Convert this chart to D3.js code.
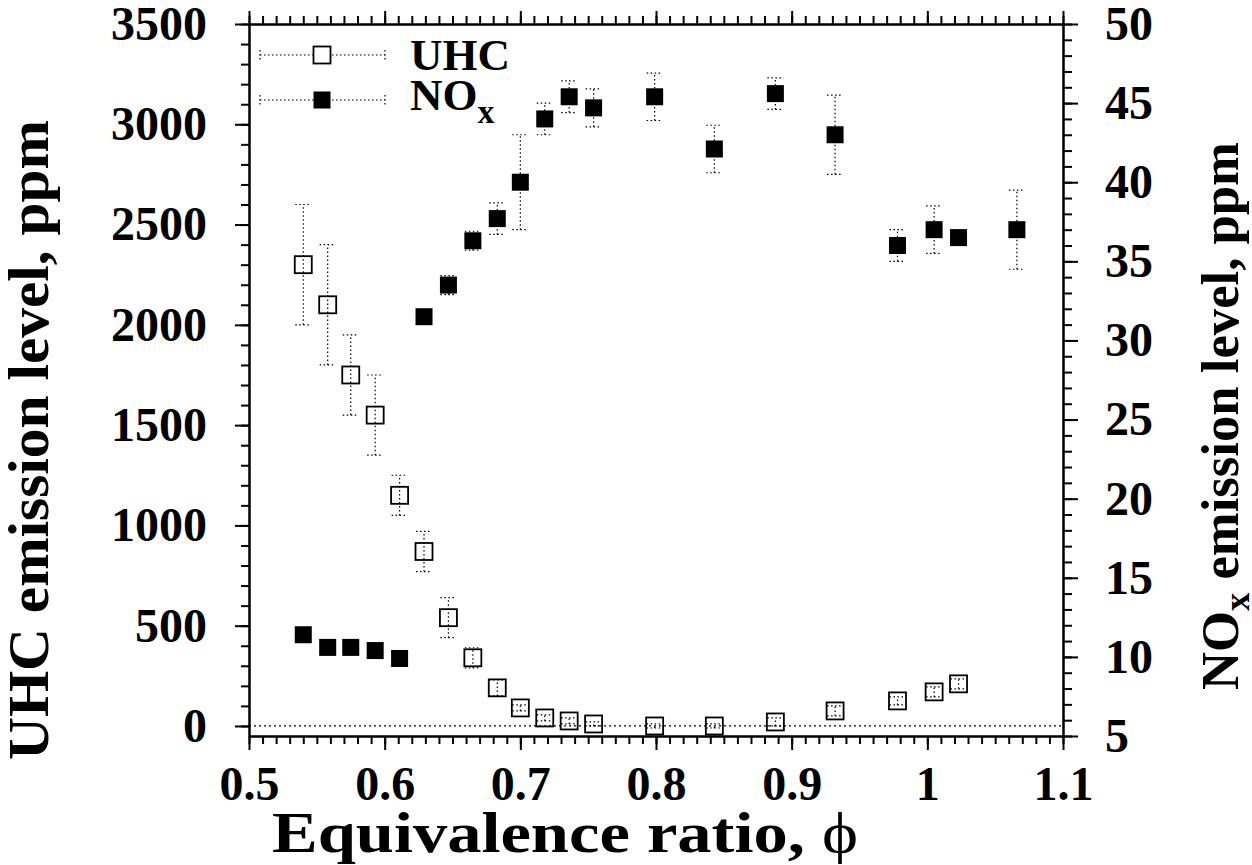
<!DOCTYPE html>
<html>
<head>
<meta charset="utf-8">
<script src="https://cdn.jsdelivr.net/npm/d3@7"></script>
<style>
  body { margin: 0; background: #fff; }
  svg text { font-family: "Liberation Serif", "Times New Roman", serif; font-weight: bold; fill: #000; }
</style>
</head>
<body>
<div id="chart"></div>
<script>
// equivalence ratio of each measurement
const phi = [0.540, 0.558, 0.575, 0.593, 0.611, 0.629, 0.647, 0.665, 0.683, 0.700,
             0.718, 0.736, 0.754, 0.799, 0.843, 0.888, 0.932, 0.978, 1.005, 1.023, 1.066];
// UHC, ppm (no reading at the last point)
const uhc = [2300, 2100, 1750, 1550, 1150, 870, 540, 340, 190, 90,
             40, 25, 10, 0, 0, 20, 75, 125, 170, 210, null];
const uhcErr = [300, 300, 200, 200, 100, 100, 100, 50, 40, 15,
                15, 15, 10, 10, 10, 20, 25, 20, 25, 25, null];
// NOx, ppm
const nox = [11.4, 10.6, 10.6, 10.4, 9.9, 31.5, 33.5, 36.3, 37.7, 40.0,
             44.0, 45.4, 44.7, 45.4, 42.1, 45.6, 43.0, 36.0, 37.0, 36.5, 37.0];
const noxErr = [0.3, 0.3, 0.3, 0.3, 0.3, 0.3, 0.6, 0.6, 1.0, 3.0,
                1.0, 1.0, 1.2, 1.5, 1.5, 1.0, 2.5, 1.0, 1.5, 0.3, 2.5];

const xMajor = d3.range(0.5, 1.1001, 0.1);
const xMinor = d3.range(0.5, 1.1001, 0.01);
const yLeftMajor = d3.range(0, 3501, 500);
const yLeftMinor = d3.range(0, 3501, 100);
const yRightMajor = d3.range(5, 51, 5);
const yRightMinor = d3.range(5, 51, 1);

const W = 1252, H = 865;
const pL = 249, pR = 1063, pT = 24, pB = 736;

const svg = d3.select("#chart").append("svg")
  .attr("width", W)
  .attr("height", H);

const x = d3.scaleLinear().domain([0.5, 1.1]).range([pL, pR]);
const yL = d3.scaleLinear().domain([-50, 3500]).range([pB, pT]);
const yR = d3.scaleLinear().domain([5, 50]).range([pB, pT]);

const fmtX = d => (Math.abs(d - 1) < 1e-9 ? "1" : d3.format(".1f")(d));

// zero reference line for UHC
svg.append("line")
  .attr("x1", pL).attr("x2", pR)
  .attr("y1", yL(0)).attr("y2", yL(0))
  .attr("stroke", "#000").attr("stroke-width", 1.2)
  .attr("stroke-dasharray", "2,3");

function styleAxis(g) {
  g.selectAll("path").attr("stroke", "#000").attr("stroke-width", 2);
  g.selectAll("line").attr("stroke", "#000").attr("stroke-width", 2);
  g.selectAll("text").style("font-size", "48px").attr("fill", "#000");
}

// bottom
svg.append("g").attr("transform", `translate(0,${pB})`)
  .call(d3.axisBottom(x).tickValues(xMinor).tickSize(8).tickSizeOuter(0).tickFormat(""))
  .call(styleAxis);
svg.append("g").attr("transform", `translate(0,${pB})`)
  .call(d3.axisBottom(x).tickValues(xMajor).tickSize(14).tickSizeOuter(0).tickPadding(16).tickFormat(fmtX))
  .call(styleAxis);
// top
svg.append("g").attr("transform", `translate(0,${pT})`)
  .call(d3.axisTop(x).tickValues(xMinor).tickSize(8).tickSizeOuter(0).tickFormat(""))
  .call(styleAxis);
svg.append("g").attr("transform", `translate(0,${pT})`)
  .call(d3.axisTop(x).tickValues(xMajor).tickSize(13).tickSizeOuter(0).tickFormat(""))
  .call(styleAxis);
// left
svg.append("g").attr("transform", `translate(${pL},0)`)
  .call(d3.axisLeft(yL).tickValues(yLeftMinor).tickSize(8).tickSizeOuter(0).tickFormat(""))
  .call(styleAxis);
svg.append("g").attr("transform", `translate(${pL},0)`)
  .call(d3.axisLeft(yL).tickValues(yLeftMajor).tickSize(14).tickSizeOuter(0).tickPadding(28).tickFormat(d3.format("d")))
  .call(styleAxis);
// right
svg.append("g").attr("transform", `translate(${pR},0)`)
  .call(d3.axisRight(yR).tickValues(yRightMinor).tickSize(9).tickSizeOuter(0).tickFormat(""))
  .call(styleAxis);
svg.append("g").attr("transform", `translate(${pR},0)`)
  .call(d3.axisRight(yR).tickValues(yRightMajor).tickSize(15).tickSizeOuter(0).tickPadding(27).tickFormat(d3.format("d")))
  .call(styleAxis);

// error bars
function errorBars(vals, errs, y, cls) {
  const pts = phi.map((p, i) => ({ p, v: vals[i], e: errs[i] })).filter(d => d.v != null);
  const g = svg.append("g").attr("class", cls)
    .attr("stroke", "#000").attr("stroke-width", 1.2).attr("stroke-dasharray", "1.5,2.5");
  g.selectAll(".v").data(pts).enter().append("line")
    .attr("x1", d => x(d.p)).attr("x2", d => x(d.p))
    .attr("y1", d => y(d.v - d.e)).attr("y2", d => y(d.v + d.e));
  g.selectAll(".t").data(pts).enter().append("line")
    .attr("x1", d => x(d.p) - 8).attr("x2", d => x(d.p) + 8)
    .attr("y1", d => y(d.v + d.e)).attr("y2", d => y(d.v + d.e));
  g.selectAll(".b").data(pts).enter().append("line")
    .attr("x1", d => x(d.p) - 8).attr("x2", d => x(d.p) + 8)
    .attr("y1", d => y(d.v - d.e)).attr("y2", d => y(d.v - d.e));
  return pts;
}

const sq = 17;
const uhcPts = errorBars(uhc, uhcErr, yL, "uhc-err");
svg.append("g").selectAll("rect").data(uhcPts).enter().append("rect")
  .attr("x", d => x(d.p) - sq / 2).attr("y", d => yL(d.v) - sq / 2)
  .attr("width", sq).attr("height", sq)
  .attr("fill", "none").attr("stroke", "#000").attr("stroke-width", 1.8);

const noxPts = errorBars(nox, noxErr, yR, "nox-err");
svg.append("g").selectAll("rect").data(noxPts).enter().append("rect")
  .attr("x", d => x(d.p) - sq / 2).attr("y", d => yR(d.v) - sq / 2)
  .attr("width", sq).attr("height", sq)
  .attr("fill", "#000");

// legend
const legend = [
  { y: 55, filled: false },
  { y: 100, filled: true }
];
const lg = svg.append("g");
legend.forEach(l => {
  const g = lg.append("g").attr("stroke", "#000").attr("stroke-width", 1.2).attr("stroke-dasharray", "1.5,2.5");
  g.append("line").attr("x1", 260).attr("x2", 385).attr("y1", l.y).attr("y2", l.y);
  g.append("line").attr("x1", 260).attr("x2", 260).attr("y1", l.y - 5).attr("y2", l.y + 5);
  g.append("line").attr("x1", 385).attr("x2", 385).attr("y1", l.y - 5).attr("y2", l.y + 5);
  lg.append("rect").attr("x", 322 - sq / 2).attr("y", l.y - sq / 2)
    .attr("width", sq).attr("height", sq)
    .attr("fill", l.filled ? "#000" : "#fff")
    .attr("stroke", "#000").attr("stroke-width", l.filled ? 0 : 1.8);
});
lg.append("text").attr("x", 410).attr("y", 70).style("font-size", "45px").text("UHC");
const noxLabel = lg.append("text").attr("x", 410).attr("y", 110).style("font-size", "45px");
noxLabel.append("tspan").text("NO");
noxLabel.append("tspan").attr("dy", 13).style("font-size", "34px").text("x");

// axis titles
const xt = svg.append("text").attr("x", 565).attr("y", 852)
  .attr("text-anchor", "middle").style("font-size", "58px")
  .attr("textLength", 586).attr("lengthAdjust", "spacingAndGlyphs");
xt.append("tspan").text("Equivalence ratio, ");
xt.append("tspan").style("font-weight", "normal").text("\u03D5");

svg.append("text")
  .attr("transform", "translate(48,440) rotate(-90)")
  .attr("text-anchor", "middle").style("font-size", "57px")
  .attr("textLength", 640).attr("lengthAdjust", "spacingAndGlyphs")
  .text("UHC emission level, ppm");

const yt = svg.append("text")
  .attr("transform", "translate(1238,416) rotate(-90)")
  .attr("text-anchor", "middle").style("font-size", "52px")
  .attr("textLength", 548).attr("lengthAdjust", "spacingAndGlyphs");
yt.append("tspan").text("NO");
yt.append("tspan").attr("dy", 11).style("font-size", "36px").text("x");
yt.append("tspan").attr("dy", -11).text(" emission level, ppm");
</script>
</body>
</html>
